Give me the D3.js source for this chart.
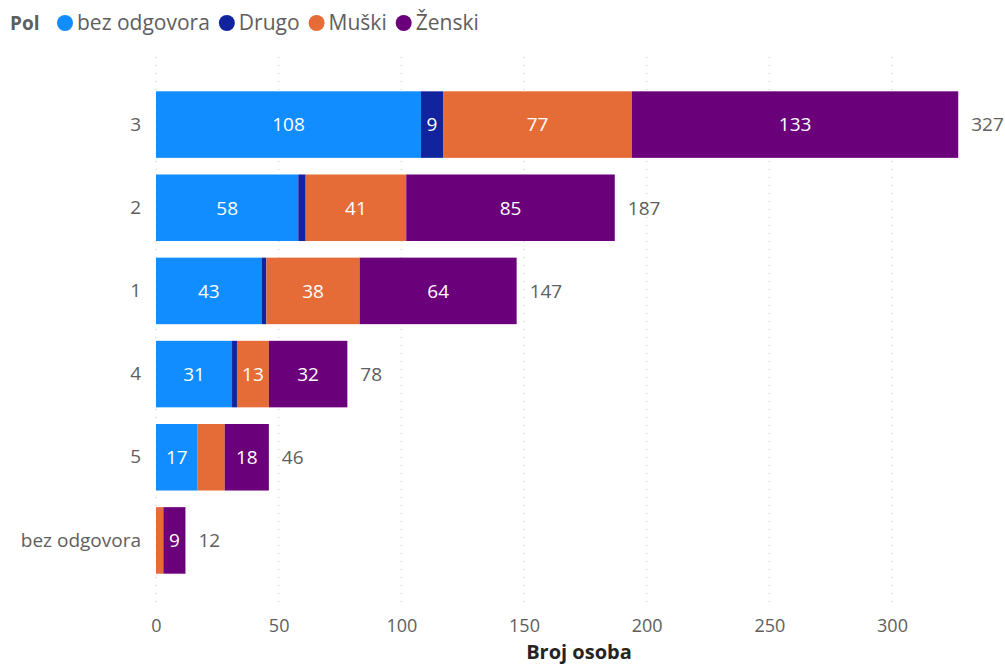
<!DOCTYPE html>
<html><head><meta charset="utf-8">
<script src="https://cdn.jsdelivr.net/npm/d3@7"></script>
<style>body{margin:0;background:#fff;}svg{display:block;font-family:"Open Sans",sans-serif;}</style>
</head><body>
<svg id="c" width="1005" height="667"></svg>
<script>
const categories = ["3","2","1","4","5","bez odgovora"];
const seriesNames = ["bez odgovora","Drugo","Muški","Ženski"];
const bezOdgovora = [108,58,43,31,17,0];
const drugo = [9,3,2,2,0,0];
const muski = [77,41,38,13,11,3];
const zenski = [133,85,64,32,18,9];
const xTicks = [0,50,100,150,200,250,300];
const colors = ["#118DFF","#12239E","#E66C37","#6B007B"];

const seriesValues = [bezOdgovora, drugo, muski, zenski];
const rows = categories.map((c,i)=>{const o={cat:c}; seriesNames.forEach((s,j)=>o[s]=seriesValues[j][i]); return o;});
const stacked = d3.stack().keys(seriesNames)(rows);

const svg = d3.select("#c");
const x = d3.scaleLinear().domain([0,300]).range([156,892]);
const y = d3.scaleBand().domain(categories).range([83,582]).paddingInner(0.2).paddingOuter(0.1);

// gridlines
svg.append("g").selectAll("line").data(xTicks).join("line")
  .attr("x1",d=>x(d)).attr("x2",d=>x(d)).attr("y1",57).attr("y2",608)
  .attr("stroke","#c8c6c4").attr("stroke-width",1).attr("stroke-dasharray","1,7");

// x axis
const xa = svg.append("g").attr("transform","translate(0,612)")
  .call(d3.axisBottom(x).tickValues(xTicks).tickSize(0).tickPadding(7));
xa.select(".domain").remove();
xa.selectAll("text").attr("font-size",18).attr("fill","#605E5C").attr("font-family","Open Sans");

svg.append("text").attr("x",579).attr("y",659).attr("text-anchor","middle")
  .attr("font-size",20).attr("font-weight","bold").attr("fill","#252423").text("Broj osoba");

// y axis
const ya = svg.append("g").attr("transform","translate(141,0)")
  .call(d3.axisLeft(y).tickSize(0).tickPadding(0));
ya.select(".domain").remove();
ya.selectAll("text").attr("font-size",19).attr("fill","#605E5C").attr("font-family","Open Sans");

// bars
const layers = svg.append("g").selectAll("g").data(stacked).join("g").attr("fill",(d,i)=>colors[i]);
layers.selectAll("rect").data(d=>d).join("rect")
  .attr("x",d=>x(d[0])).attr("width",d=>Math.max(0,x(d[1])-x(d[0])))
  .attr("y",d=>y(d.data.cat)).attr("height",y.bandwidth());

// segment labels
const lbl = svg.append("g");
stacked.forEach((layer)=>{
  layer.forEach(d=>{
    const v = d[1]-d[0];
    if(v<=0) return;
    const w = x(d[1])-x(d[0]);
    const t = lbl.append("text").attr("x",(x(d[0])+x(d[1]))/2).attr("y",y(d.data.cat)+y.bandwidth()/2)
      .attr("dy","0.36em").attr("text-anchor","middle").attr("font-size",19).attr("font-weight",500).attr("fill","#fff")
      .text(v);
    if(t.node().getComputedTextLength()+9 > w) t.remove();
  });
});

// totals
svg.append("g").selectAll("text").data(rows).join("text")
  .attr("x",d=>x(d3.sum(seriesNames,s=>d[s]))+13).attr("y",d=>y(d.cat)+y.bandwidth()/2)
  .attr("dy","0.36em").attr("font-size",19).attr("fill","#605E5C")
  .text(d=>d3.sum(seriesNames,s=>d[s]));

// legend
const lg = svg.append("g").attr("transform","translate(10,23)");
lg.append("text").attr("x",0).attr("y",0).attr("dy","0.35em").attr("font-size",19).attr("font-weight","bold").attr("fill","#605E5C").text("Pol");
let lx = 55;
seriesNames.forEach((s,i)=>{
  lg.append("circle").attr("cx",lx).attr("cy",0).attr("r",8).attr("fill",colors[i]);
  const t = lg.append("text").attr("x",lx+12).attr("y",0).attr("dy","0.35em").attr("font-size",21).attr("fill","#605E5C").text(s);
  lx = lx+12+t.node().getComputedTextLength()+17;
});
</script>
</body></html>
